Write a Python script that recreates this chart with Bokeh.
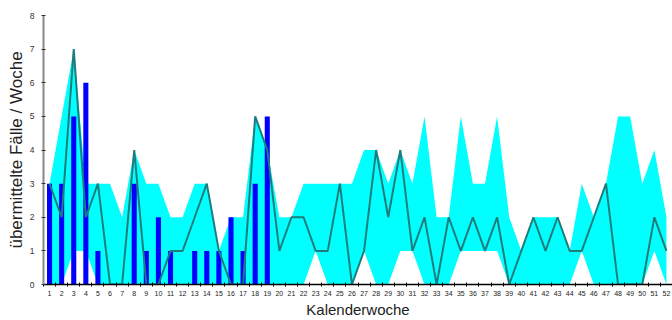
from bokeh.plotting import figure
from bokeh.models import Range1d, FixedTicker
from bokeh.embed import file_html
from bokeh.resources import INLINE

# Kalenderwochen 1-52
wochen = list(range(1, 53))
wochen_labels = [str(w) for w in wochen]

# Spannweite der Vorjahre (Minimum / Maximum)
maximum = [3, 5, 7, 3, 3, 3, 2, 4, 3, 3,
           2, 2, 3, 3, 1, 2, 2, 5, 4, 2,
           2, 3, 3, 3, 3, 3, 4, 4, 3, 4,
           3, 5, 2, 2, 5, 3, 3, 5, 2, 1,
           2, 2, 2, 1, 3, 2, 3, 5, 5, 3,
           4, 2]
minimum = [0, 0, 1, 1, 0, 0, 0, 0, 0, 0,
           0, 0, 0, 0, 0, 0, 0, 0, 0, 0,
           0, 0, 1, 0, 0, 0, 1, 0, 0, 1,
           1, 0, 0, 0, 1, 1, 1, 1, 0, 0,
           0, 0, 0, 0, 1, 0, 0, 0, 0, 0,
           1, 0]

# Mittlerer Verlauf der Vorjahre
mittel = [3, 2, 7, 2, 3, 0, 0, 4, 0, 0,
          1, 1, 2, 3, 1, 0, 0, 5, 4, 1,
          2, 2, 1, 1, 3, 0, 1, 4, 2, 4,
          1, 2, 0, 2, 1, 2, 1, 2, 0, 1,
          2, 1, 2, 1, 1, 2, 3, 0, 0, 0,
          2, 1]

# Aktuelles Jahr (bisher übermittelte Wochen)
aktuell_wochen = list(range(1, 20))
aktuell = [3, 3, 5, 6, 1, 0, 0, 3, 1, 2, 1, 0, 1, 1, 1, 2, 1, 3, 5]

y_ticks = [0, 1, 2, 3, 4, 5, 6, 7, 8]

FONT = "Liberation Sans"

p = figure(width=672, height=320, output_backend="svg", toolbar_location=None,
           x_range=Range1d(0.5, 52.5), y_range=Range1d(0, 8),
           min_border_left=43, min_border_right=0, min_border_top=15,
           min_border_bottom=35)
p.outline_line_color = None
p.xgrid.grid_line_color = None
p.ygrid.grid_line_color = None
p.background_fill_color = "white"
p.border_fill_color = "white"

p.varea(x=wochen, y1=minimum, y2=maximum, fill_color="#00FFFF", fill_alpha=1.0)
p.vbar(x=aktuell_wochen, top=aktuell, width=0.42, fill_color="#0000FF",
       line_color=None)
p.line(x=wochen, y=mittel, line_color="#1d7d7d", line_width=2)

# x-Achse: Beschriftung in der Wochenmitte, Striche an den Wochengrenzen
xa = p.xaxis[0]
xa.ticker = FixedTicker(ticks=wochen, minor_ticks=[w - 0.5 for w in wochen] + [52.5])
xa.major_label_overrides = {w: s for w, s in zip(wochen, wochen_labels)}
xa.major_tick_line_color = None
xa.major_tick_in = 0
xa.major_tick_out = 0
xa.minor_tick_line_color = "black"
xa.minor_tick_in = 2
xa.minor_tick_out = 2
xa.axis_line_color = "black"
xa.axis_line_width = 1.5
xa.major_label_text_font = FONT
xa.major_label_text_font_size = "7px"
xa.major_label_text_color = "#222222"
xa.major_label_standoff = 4
xa.axis_label = "Kalenderwoche"
xa.axis_label_text_font = FONT
xa.axis_label_text_font_size = "15px"
xa.axis_label_text_font_style = "normal"
xa.axis_label_text_color = "#222222"
xa.axis_label_standoff = 2

ya = p.yaxis[0]
ya.ticker = FixedTicker(ticks=y_ticks)
ya.minor_tick_line_color = None
ya.major_tick_in = 2
ya.major_tick_out = 2
ya.major_tick_line_color = "#333333"
ya.axis_line_color = "#888888"
ya.axis_line_width = 2
ya.major_label_text_font = FONT
ya.major_label_text_font_size = "8.5px"
ya.major_label_text_color = "#333333"
ya.major_label_standoff = 7
ya.axis_label = "übermittelte Fälle / Woche"
ya.axis_label_text_font = FONT
ya.axis_label_text_font_size = "17px"
ya.axis_label_text_font_style = "normal"
ya.axis_label_text_color = "#222222"
ya.axis_label_standoff = 1

open("out.html", "w").write(file_html(p, INLINE))
